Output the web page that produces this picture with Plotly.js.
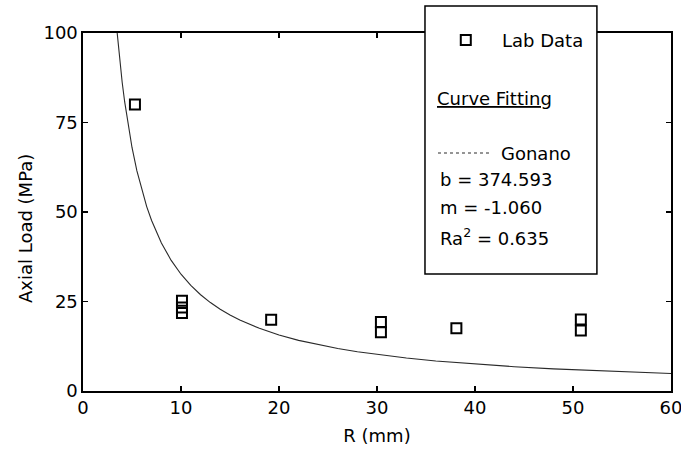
<!DOCTYPE html>
<html>
<head>
<meta charset="utf-8">
<script src="https://cdn.plot.ly/plotly-3.0.1.min.js"></script>
<style>
  html, body { margin: 0; padding: 0; background: #ffffff; }
  #chart { width: 681px; height: 456px; }
</style>
</head>
<body>
<div id="chart"></div>
<script>
// Laboratory measurements: radius R (mm) against axial load (MPa)
var labR    = [5.3, 10.1, 10.1, 10.1, 19.2, 30.4, 30.4, 38.1, 50.8, 50.8];
var labLoad = [80.0, 25.2, 23.3, 21.8, 19.9, 19.3, 16.4, 17.5, 20.0, 16.9];

// Gonano power-law fit: load = b * R^m
var gonanoB = 374.593;
var gonanoM = -1.060;
var gonanoRa2 = 0.635;

// Radii at which the fitted curve is evaluated
var fitR = [3.4, 3.6, 3.8, 4, 4.25, 4.5, 4.75, 5, 5.5, 6, 6.5, 7, 7.5, 8, 9, 10, 11, 12,
            13, 14, 15, 16, 18, 20, 22, 24, 26, 28, 30, 33, 36, 40, 44, 48, 52, 56, 60];
var fitLoad = fitR.map(function (r) { return gonanoB * Math.pow(r, gonanoM); });

var xTicks = [0, 10, 20, 30, 40, 50, 60];
var yTicks = [0, 25, 50, 75, 100];

var FONT = 'DejaVu Sans, Liberation Sans, Arial, sans-serif';
var INK = '#000000';

var traces = [
  {
    x: fitR, y: fitLoad, type: 'scatter', mode: 'lines',
    line: { color: '#2a2a2a', width: 1.1 },
    hoverinfo: 'skip', showlegend: false
  },
  {
    x: labR, y: labLoad, type: 'scatter', mode: 'markers',
    marker: { symbol: 'square-open', size: 10, color: INK, line: { color: INK, width: 2 } },
    showlegend: false
  }
];

// Legend panel geometry (paper units)
var boxX0 = 0.5816, boxX1 = 0.874, boxY0 = 0.3268, boxY1 = 1.0754;
var keyX = 0.651, keyY = 0.9804;
var textX = 0.6037;

function note(text, x, y, xanchor) {
  return {
    text: text, xref: 'paper', yref: 'paper', x: x, y: y,
    xanchor: xanchor || 'left', yanchor: 'middle', showarrow: false,
    font: { family: FONT, size: 18, color: INK }
  };
}

var layout = {
  width: 681, height: 456,
  margin: { l: 83, r: 10, t: 33, b: 65 },
  paper_bgcolor: '#ffffff', plot_bgcolor: '#ffffff',
  showlegend: false,
  xaxis: {
    range: [0, 60], tickvals: xTicks, ticktext: xTicks.map(String),
    ticks: 'inside', ticklen: 5, tickwidth: 1.2, tickcolor: INK,
    showline: true, linecolor: INK, linewidth: 1.6, mirror: 'ticks',
    showgrid: false, zeroline: false, ticklabeloverflow: 'allow',
    tickfont: { family: FONT, size: 18, color: INK },
    title: { text: 'R (mm)', font: { family: FONT, size: 18, color: INK }, standoff: 12 }
  },
  yaxis: {
    range: [0, 100], tickvals: yTicks, ticktext: yTicks.map(String),
    ticks: 'inside', ticklen: 5, tickwidth: 1.2, tickcolor: INK,
    showline: true, linecolor: INK, linewidth: 1.6, mirror: 'ticks',
    showgrid: false, zeroline: false, ticklabeloverflow: 'allow',
    tickfont: { family: FONT, size: 18, color: INK }
  },
  shapes: [
    { type: 'rect', xref: 'paper', yref: 'paper', x0: boxX0, x1: boxX1, y0: boxY0, y1: boxY1,
      fillcolor: '#ffffff', line: { color: INK, width: 1.5 }, layer: 'above' },
    { type: 'rect', xref: 'paper', yref: 'paper', xsizemode: 'pixel', ysizemode: 'pixel',
      xanchor: keyX, yanchor: keyY, x0: -5, x1: 5, y0: -5, y1: 5,
      fillcolor: 'rgba(0,0,0,0)', line: { color: INK, width: 2 }, layer: 'above' },
    { type: 'line', xref: 'paper', yref: 'paper', x0: textX, x1: 0.6956, y0: 0.6648, y1: 0.6648,
      line: { color: '#2a2a2a', width: 1.2, dash: 'dot' }, layer: 'above' }
  ],
  annotations: [
    Object.assign(note('Axial Load (MPa)', -0.0986, 0.4525, 'center'), { textangle: -90 }),
    note('Lab Data', 0.7092, keyY),
    note('<u>Curve Fitting</u>', 0.5986, 0.8184),
    note('Gonano', 0.7075, 0.6648),
    note('b = ' + gonanoB.toFixed(3), textX, 0.5894),
    note('m = ' + gonanoM.toFixed(3), textX, 0.5112),
    note('Ra<sup>2</sup> = ' + gonanoRa2.toFixed(3), textX, 0.4302)
  ]
};

Plotly.newPlot('chart', traces, layout, { displayModeBar: false, staticPlot: true });
</script>
</body>
</html>
